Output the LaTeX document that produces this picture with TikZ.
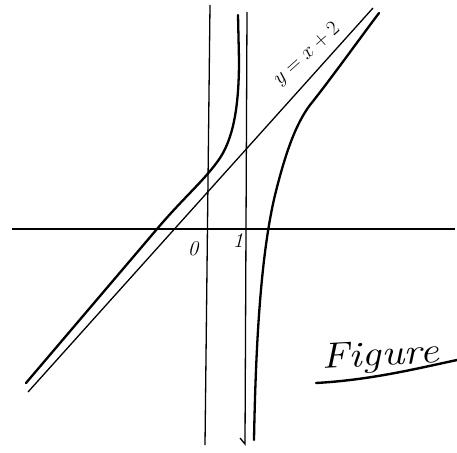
\documentclass[tikz,border=0pt]{standalone}
\usepackage{amsmath}
\usepackage{fontspec}
\usepackage{tikz}
\usetikzlibrary{calc}

\begin{document}
\begin{tikzpicture}[x=1pt, y=-1pt,
  axis/.style={line width=1.3pt},
  asym/.style={line width=1.3pt},
  curve/.style={line width=2.3pt, line cap=round, line join=round},
  tick/.style={inner sep=0pt, font=\fontsize{21}{24}\selectfont\itshape},
  eqn/.style={inner sep=0pt, font=\fontsize{20}{24}\selectfont},
  figcap/.style={inner sep=0pt, font=\fontsize{36}{40}\selectfont\itshape}]
\useasboundingbox (0,0) rectangle (457,452);
% ================= axes and asymptotes =================
\coordinate (xl) at (12,229);
\coordinate (xr) at (455,229);
\coordinate (yt) at (210,5);
\coordinate (yb) at (205,445);
\coordinate (at) at (247,12);
\coordinate (ab) at (245,444);
\draw[axis] (xl) -- (xr);
\draw[axis] (yt) -- (yb);
\draw[asym] (at) -- (ab) -- ++(-5,-6);
\coordinate (ls) at (28,392);
\coordinate (le) at (373,8);
\draw[asym] (ls) -- (le);
\node[eqn, rotate=42] (eq) at (307,54) {$y=x+2$};
\node[tick] (o) at (193,249) {0};
\node[tick] (one) at (238,241) {1};
% ================= branches =================
\draw[curve] (26,383) -- (157,229) .. controls (185,196) and (205,180) .. (220,158)
  .. controls (235,135) and (239,100) .. (239,60) -- (238,15);
\draw[curve] (254,440) .. controls (256,330) and (262,250) .. (275,195)
  .. controls (285,155) and (295,125) .. (310,105)
  .. controls (330,80) and (355,45) .. (379,13);
% ================= caption =================
\node[figcap, anchor=base west, xscale=1.2, rotate=4] (fig) at (322,369) {Figure};
\draw[line width=2.4pt, line cap=round] (316,383) .. controls (370,380) and (415,369) .. (457,360);
\end{tikzpicture}
\end{document}
